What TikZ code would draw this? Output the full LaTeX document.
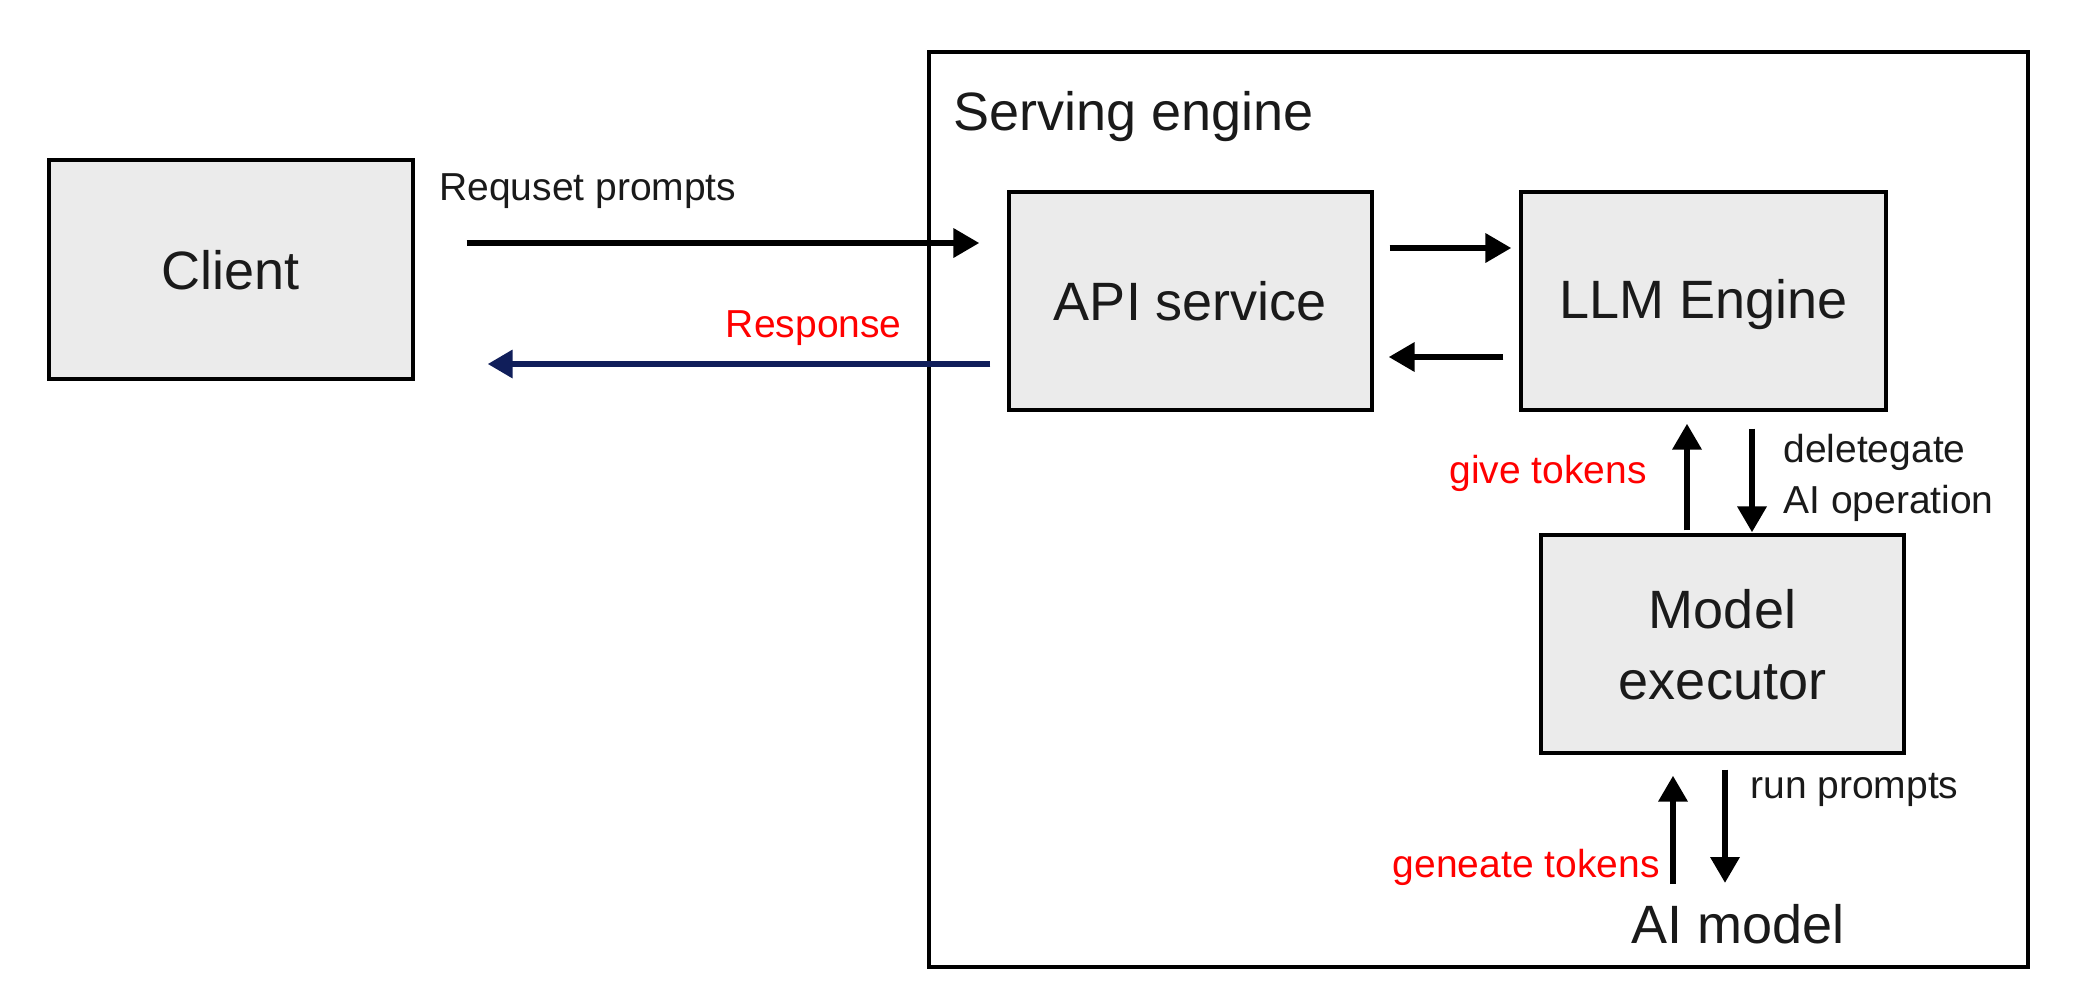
\documentclass[tikz,border=0pt]{standalone}
\usepackage{fontspec}
\setmainfont{Liberation Sans}
\usetikzlibrary{arrows.meta}
\definecolor{boxfill}{HTML}{EBEBEB}
\definecolor{navy}{RGB}{16,30,90}
\definecolor{lblred}{HTML}{FF0000}
\definecolor{txt}{HTML}{1A1A1A}
\tikzset{
  box/.style={draw=black, line width=1.6pt, fill=boxfill, inner sep=0pt,
    font=\fontsize{27pt}{35.5pt}\selectfont, text=txt, align=center, text depth=0pt},
  arr/.style={line width=3.2pt, -{Triangle[length=13pt,width=14pt]}},
  lbl/.style={font=\fontsize{19.5pt}{25.5pt}\selectfont, text=txt, inner sep=0pt},
  redlbl/.style={lbl, text=lblred},
  big/.style={font=\fontsize{27pt}{35.5pt}\selectfont, text=txt, inner sep=0pt}
}
\begin{document}
\begin{tikzpicture}[x=0.5pt,y=-0.5pt]
\useasboundingbox[fill=white] (0,0) rectangle (2078,992);
% outer serving engine box
\node[draw=black, line width=1.6pt, minimum width=549.5pt, minimum height=457.5pt, inner sep=0pt] (serving) at (1478.5,509.5) {};
\node[big, anchor=base west] (servlbl) at (953,130) {Serving engine};
% boxes
\node[box, minimum width=182pt, minimum height=109.5pt] (client) at (231,269.5) {Client};
\node[box, minimum width=181.5pt, minimum height=109pt] (api) at (1190.5,301) {API service};
\node[box, minimum width=182.5pt, minimum height=109pt] (llm) at (1703.5,301) {\raisebox{2.5pt}{LLM Engine}};
\node[box, minimum width=181.5pt, minimum height=109pt] (model) at (1722.5,644) {Model\\executor};
\node[big, anchor=base] (aimodel) at (1738,943) {AI model};
% client <-> api
\draw[arr] ([xshift=26pt,yshift=13.25pt]client.east) -- ([xshift=-14pt,yshift=29pt]api.west);
\node[lbl, anchor=base west] (reqlbl) at (439,200) {Requset prompts};
\draw[arr, draw=navy, -{Triangle[length=12.5pt,width=13.5pt,fill=navy]}] ([xshift=-8.5pt,yshift=-31.5pt]api.west) -- ([xshift=36.5pt,yshift=-47.25pt]client.east);
\node[redlbl, anchor=base east] (resplbl) at (902,337) {Response};
% api <-> llm
\draw[arr] ([xshift=8pt,yshift=26.5pt]api.east) -- ([xshift=-4pt,yshift=26.5pt]llm.west);
\draw[arr] ([xshift=-8pt,yshift=-28pt]llm.west) -- ([xshift=7.5pt,yshift=-28pt]api.east);
% llm <-> model
\draw[arr] ([xshift=-17.75pt,yshift=1.5pt]model.north) -- ([xshift=-8.25pt,yshift=-6pt]llm.south);
\draw[arr] ([xshift=24.25pt,yshift=-8.5pt]llm.south) -- ([xshift=14.75pt,yshift=0.5pt]model.north);
\node[redlbl, anchor=base east] (givelbl) at (1647,483) {give tokens};
\node[lbl, anchor=base west, align=left] (dellbl) at (1783,513) {deletegate\\AI operation};
% model <-> ai model
\draw[arr] ([xshift=-32.5pt,yshift=29.5pt]aimodel.base) -- ([xshift=-24.75pt,yshift=-10.5pt]model.south);
\draw[arr] ([xshift=1.25pt,yshift=-7.5pt]model.south) -- ([xshift=-6.5pt,yshift=30pt]aimodel.base);
\node[lbl, anchor=base west] (runlbl) at (1750,798) {run prompts};
\node[redlbl, anchor=base east] (genlbl) at (1660,877) {geneate tokens};
\end{tikzpicture}
\end{document}
